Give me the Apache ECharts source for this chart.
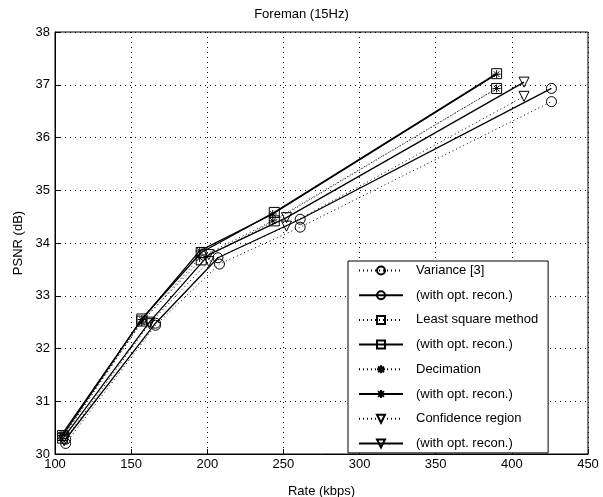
<!DOCTYPE html>
<html>
<head>
<meta charset="utf-8">
<script src="https://cdn.jsdelivr.net/npm/echarts@6/dist/echarts.min.js"></script>
<style>
  html, body { margin: 0; padding: 0; background: #fff; }
  #chart { width: 603px; height: 497px; }
</style>
</head>
<body>
<div id="chart"></div>
<script>
// == Data ====================================================================

const xTicks = [100, 150, 200, 250, 300, 350, 400, 450]
const yTicks = [30, 31, 32, 33, 34, 35, 36, 37, 38]

const variance = [[107, 30.2], [166, 32.44], [208, 33.6], [261, 34.3], [426, 36.68]]
const varianceOpt = [[107, 30.28], [166, 32.48], [207, 33.72], [261, 34.45], [426, 36.93]]
const leastSquare = [[105, 30.3], [157, 32.52], [196, 33.68], [244, 34.42], [390, 36.93]]
const leastSquareOpt = [[105, 30.35], [157, 32.56], [196, 33.82], [244, 34.58], [390, 37.21]]
const decimation = [[104, 30.3], [157, 32.5], [195, 33.72], [243, 34.42], [390, 36.93]]
const decimationOpt = [[104, 30.35], [157, 32.55], [195, 33.85], [243, 34.55], [390, 37.2]]
const confidence = [[106, 30.25], [162, 32.47], [201, 33.65], [252, 34.32], [408, 36.78]]
const confidenceOpt = [[106, 30.32], [162, 32.5], [201, 33.78], [252, 34.48], [408, 37.05]]

// legend names must be unique, trailing spaces are trimmed by the formatter
const names = [
  'Variance [3]', '(with opt. recon.)',
  'Least square method', '(with opt. recon.) ',
  'Decimation', '(with opt. recon.)  ',
  'Confidence region', '(with opt. recon.)   '
]

// == Helpers =================================================================

const FONT = 'Liberation Sans, Arial, sans-serif'
const STAR = 'path://M0,-5L0,5M-5,0L5,0M-3.6,-3.6L3.6,3.6M-3.6,3.6L3.6,-3.6'
const CIRCLE = 'path://M5,0A5,5,0,1,1,-5,0A5,5,0,1,1,5,0Z'
const SQUARE = 'path://M-5,-5L5,-5L5,5L-5,5Z'
const TRIANGLE = 'path://M-5,-4L5,-4L0,5Z'

function makeSeries (name, data, symbol, solid) {
  return {
    name,
    type: 'line',
    data,
    symbol,
    symbolSize: symbol === STAR ? 8 : 10,
    showAllSymbol: true,
    lineStyle: {
      color: '#000',
      width: solid ? 1.3 : 1,
      type: solid ? 'solid' : [1, 3]
    },
    itemStyle: {
      color: 'rgba(0,0,0,0)',
      borderColor: '#000',
      borderWidth: 1
    },
    emphasis: { disabled: true },
    animation: false
  }
}

// == Chart ===================================================================

const chart = echarts.init(document.getElementById('chart'))

chart.setOption({
  backgroundColor: '#fff',
  animation: false,
  title: {
    text: 'Foreman (15Hz)',
    left: 'center',
    top: 3,
    textStyle: { fontFamily: FONT, fontSize: 13, fontWeight: 'normal', color: '#000' }
  },
  grid: {
    left: 55,
    right: 15,
    top: 32,
    bottom: 43,
    outerBoundsMode: 'none',
    show: true,
    borderColor: '#000',
    borderWidth: 1
  },
  legend: {
    orient: 'vertical',
    left: 348,
    top: 261,
    padding: [3, 10, 3, 10],
    itemWidth: 44,
    itemHeight: 10,
    itemGap: 11.7,
    backgroundColor: '#fff',
    borderColor: '#000',
    borderWidth: 1,
    data: names,
    formatter: n => n.trim(),
    textStyle: { fontFamily: FONT, fontSize: 13, color: '#000', padding: [0, 0, 0, 8] }
  },
  xAxis: {
    type: 'value',
    min: xTicks[0],
    max: xTicks[xTicks.length - 1],
    interval: 50,
    name: 'Rate (kbps)',
    nameLocation: 'middle',
    nameGap: 31,
    nameTextStyle: { fontFamily: FONT, fontSize: 13, color: '#000' },
    axisLine: { lineStyle: { color: '#000' } },
    axisTick: { inside: true, length: 5, lineStyle: { color: '#000' } },
    axisLabel: { fontFamily: FONT, fontSize: 13, color: '#000', margin: 4 },
    splitLine: { show: true, lineStyle: { color: '#000', type: [1, 4], width: 1 } }
  },
  yAxis: {
    type: 'value',
    min: yTicks[0],
    max: yTicks[yTicks.length - 1],
    interval: 1,
    name: 'PSNR (dB)',
    nameLocation: 'middle',
    nameGap: 30,
    nameTextStyle: { fontFamily: FONT, fontSize: 13, color: '#000' },
    axisLine: { lineStyle: { color: '#000' } },
    axisTick: { inside: true, length: 5, lineStyle: { color: '#000' } },
    axisLabel: { fontFamily: FONT, fontSize: 13, color: '#000', margin: 5 },
    splitLine: { show: true, lineStyle: { color: '#000', type: [1, 4], width: 1 } }
  },
  series: [
    makeSeries(names[0], variance, CIRCLE, false),
    makeSeries(names[1], varianceOpt, CIRCLE, true),
    makeSeries(names[2], leastSquare, SQUARE, false),
    makeSeries(names[3], leastSquareOpt, SQUARE, true),
    makeSeries(names[4], decimation, STAR, false),
    makeSeries(names[5], decimationOpt, STAR, true),
    makeSeries(names[6], confidence, TRIANGLE, false),
    makeSeries(names[7], confidenceOpt, TRIANGLE, true)
  ]
})
</script>
</body>
</html>
